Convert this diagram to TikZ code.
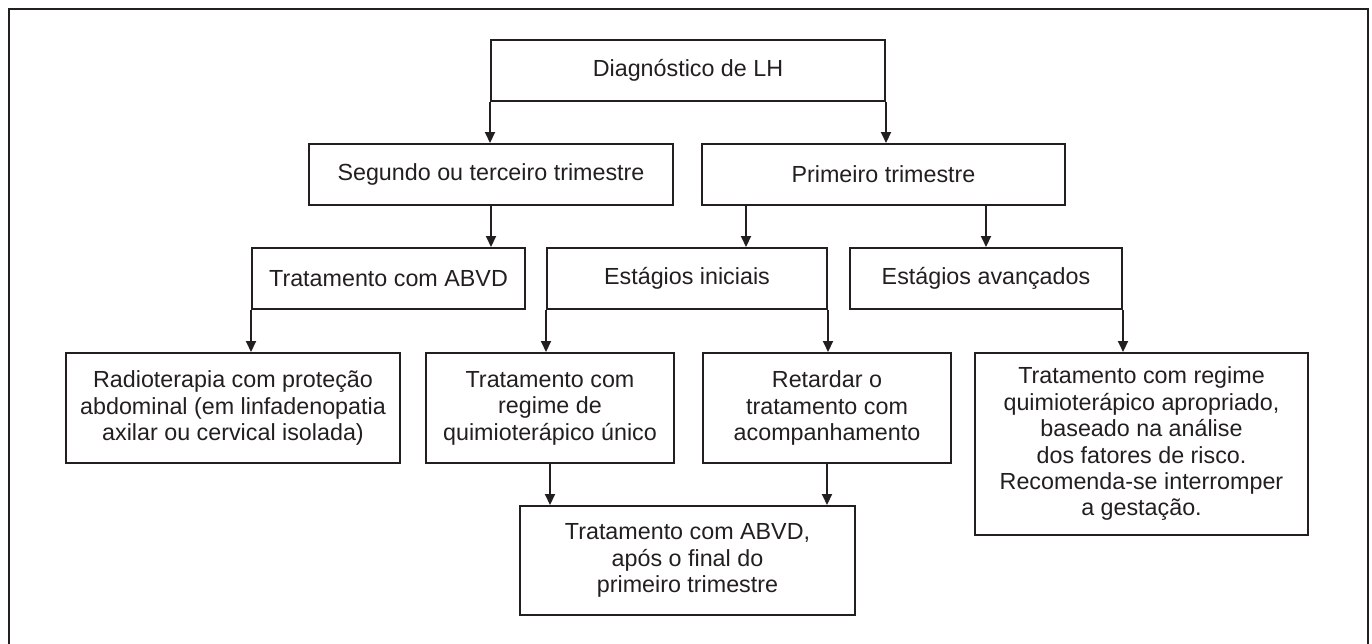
\documentclass[tikz,border=0pt]{standalone}
\usepackage{fontspec}
\setmainfont{Liberation Sans}
\usetikzlibrary{arrows.meta}
\definecolor{ink}{HTML}{231F20}
\tikzset{
  box/.style={draw=ink, line width=2pt, rectangle, inner sep=0pt, align=center,
    text=ink, font=\fontsize{23.3}{26.4}\selectfont},
  conn/.style={draw=ink, line width=2pt, -{Triangle[width=10pt,length=11pt]}},
}
\begin{document}
\begin{tikzpicture}[x=1pt,y=-1pt]
\useasboundingbox (0,0) rectangle (1372,643);
\begin{scope}
\clip (0,0) rectangle (1372,643);
\draw[ink, line width=2.2pt] (9,660) -- (9,9) -- (1368,9) -- (1368,660);
\end{scope}

\node[box, minimum width=394pt, minimum height=61pt] (diag) at (688,70.75) {Diagnóstico de LH};
\node[box, minimum width=364pt, minimum height=61pt] (seg) at (491,174.5) {Segundo ou terceiro trimestre};
\node[box, minimum width=363pt, minimum height=61pt] (prim) at (883.5,174.5) {Primeiro trimestre};
\node[box, minimum width=273pt, minimum height=61pt] (abvd) at (388.5,278.5) {Tratamento com ABVD};
\node[box, minimum width=280pt, minimum height=61pt] (ini) at (687,278.5) {Estágios iniciais};
\node[box, minimum width=272pt, minimum height=61pt] (ava) at (986,278.5) {Estágios avançados};
\node[box, minimum width=334pt, minimum height=110pt] (radio) at (233,408) {Radioterapia com proteção\\abdominal (em linfadenopatia\\axilar ou cervical isolada)};
\node[box, minimum width=248pt, minimum height=110pt] (unico) at (550,408) {Tratamento com\\regime de\\quimioterápico único};
\node[box, minimum width=248pt, minimum height=110pt] (ret) at (827,408) {Retardar o\\tratamento com\\acompanhamento};
\node[box, minimum width=333pt, minimum height=182pt] (aprop) at (1141.5,444) {Tratamento com regime\\quimioterápico apropriado,\\baseado na análise\\dos fatores de risco.\\Recomenda-se interromper\\a gestação.};
\node[box, minimum width=335pt, minimum height=109pt] (apos) at (687.5,560.5) {Tratamento com ABVD,\\após o final do\\primeiro trimestre};

\draw[conn] (diag.south west) -- (diag.south west |- seg.north);
\draw[conn] (diag.south east) -- (diag.south east |- prim.north);
\draw[conn] (seg.south) -- (seg.south |- abvd.north);
\coordinate (p1) at ([xshift=-137.5pt]prim.south);
\draw[conn] (p1) -- (p1 |- ini.north);
\draw[conn] (prim.south -| ava.north) -- (ava.north);
\draw[conn] (abvd.south west) -- (abvd.south west |- radio.north);
\draw[conn] (ini.south west) -- (ini.south west |- unico.north);
\draw[conn] (ini.south east) -- (ini.south east |- ret.north);
\draw[conn] (ava.south east) -- (ava.south east |- aprop.north);
\draw[conn] (unico.south) -- (unico.south |- apos.north);
\draw[conn] (ret.south) -- (ret.south |- apos.north);
\end{tikzpicture}
\end{document}
